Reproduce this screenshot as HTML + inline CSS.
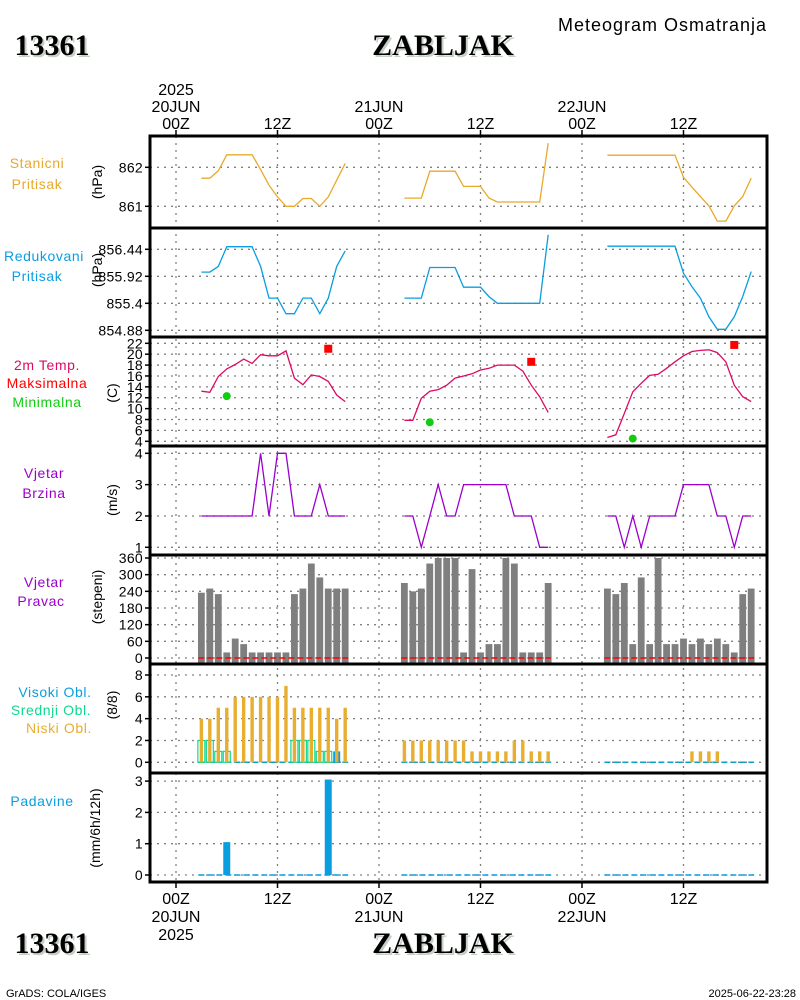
<!DOCTYPE html>
<html><head><meta charset="utf-8"><style>
html,body{margin:0;padding:0;background:#fff;}
svg{display:block;font-family:"Liberation Sans",sans-serif;}
.t{font-size:15px;fill:#000;}
.lab{font-size:14px;text-anchor:middle;letter-spacing:0.6px;}
.tk{font-size:14px;text-anchor:end;fill:#000;letter-spacing:0.3px;}
.big{font-family:"Liberation Serif",serif;font-weight:bold;font-size:30px;}
</style></head><body>
<svg id="chart" width="800" height="1000" viewBox="0 0 800 1000">
<g>
<text x="54" y="57" class="big" fill="#c5cfc5" text-anchor="middle">13361</text>
<text x="52" y="55" class="big" fill="#000" text-anchor="middle">13361</text>
<text x="445" y="57" class="big" fill="#c5cfc5" text-anchor="middle">ZABLJAK</text>
<text x="443" y="55" class="big" fill="#000" text-anchor="middle">ZABLJAK</text>
<text x="766" y="31" font-size="18" text-anchor="end" textLength="208">Meteogram Osmatranja</text>
</g>
<g>
<text x="54" y="955" class="big" fill="#c5cfc5" text-anchor="middle">13361</text>
<text x="52" y="953" class="big" fill="#000" text-anchor="middle">13361</text>
<text x="445" y="955" class="big" fill="#c5cfc5" text-anchor="middle">ZABLJAK</text>
<text x="443" y="953" class="big" fill="#000" text-anchor="middle">ZABLJAK</text>
<text x="6" y="997" font-size="11">GrADS: COLA/IGES</text>
<text x="796" y="997" font-size="11" text-anchor="end">2025-06-22-23:28</text>
</g>
<g id="grid"></g>
<g id="marks"></g>
<g id="axes"></g>
</svg>
<script>
// ---- data (hourly, 3 observation segments) ----
const segStarts = [3, 27, 51];
const stnPressure = [
 [861.72,861.72,861.91,862.32,862.32,862.32,862.32,861.94,861.54,861.24,861.0,861.0,861.2,861.2,861.0,861.24,861.67,862.1],
 [861.21,861.21,861.21,861.9,861.9,861.9,861.9,861.51,861.51,861.51,861.21,861.11,861.11,861.11,861.11,861.11,861.11,862.62],
 [862.31,862.31,862.31,862.31,862.31,862.31,862.31,862.31,862.31,861.74,861.49,861.25,861.01,860.62,860.62,861.01,861.25,861.72]];
const redPressure = [
 [856.0,856.0,856.11,856.49,856.49,856.49,856.49,856.11,855.5,855.5,855.2,855.2,855.5,855.5,855.2,855.5,856.11,856.41],
 [855.5,855.5,855.5,856.09,856.09,856.09,856.09,855.71,855.71,855.71,855.53,855.4,855.4,855.4,855.4,855.4,855.4,856.72],
 [856.5,856.5,856.5,856.5,856.5,856.5,856.5,856.5,856.5,855.98,855.72,855.5,855.14,854.9,854.9,855.14,855.53,856.01]];
const temp2m = [
 [13.2,13.0,15.9,17.3,18.1,19.1,18.3,19.9,19.7,19.7,20.6,15.6,14.4,16.2,15.9,15.0,12.5,11.3],
 [7.85,7.85,11.9,13.2,13.5,14.3,15.6,16.0,16.4,17.1,17.4,18.0,18.0,18.0,16.9,14.3,12.2,9.3],
 [4.7,5.2,9.1,13.1,14.65,16.1,16.3,17.4,18.6,19.7,20.5,20.7,20.8,20.3,18.6,14.3,12.2,11.3]];
const tmaxHour = [18, 42, 66];
const tmaxVal = [21.0, 18.6, 21.7];
const tminHour = [6, 30, 54];
const tminVal = [12.3, 7.5, 4.5];
const windSpeed = [
 [2,2,2,2,2,2,2,4,2,4,4,2,2,2,3,2,2,2],
 [2,2,1,2,3,2,2,3,3,3,3,3,3,2,2,2,1,1],
 [2,2,1,2,1,2,2,2,2,3,3,3,3,2,2,1,2,2]];
const windDir = [
 [235,250,230,20,70,50,20,20,20,20,20,230,250,340,290,250,250,250],
 [270,240,250,340,360,360,360,20,320,20,50,50,360,340,20,20,20,270],
 [250,230,270,50,290,50,360,50,50,70,50,70,50,70,50,20,230,250]];
const cloudLow = [
 [4,4,5,5,6,6,6,6,6,6,7,5,5,5,5,5,4,5],
 [2,2,2,2,2,2,2,2,1,1,1,1,1,2,2,1,1,1],
 [0,0,0,0,0,0,0,0,0,0,1,1,1,1,0,0,0,0]];
const cloudMid = [
 [2,2,1,1,0,0,0,0,0,0,0,2,2,2,1,1,0,0],
 [0,0,0,0,0,0,0,0,0,0,0,0,0,0,0,0,0,0],
 [0,0,0,0,0,0,0,0,0,0,0,0,0,0,0,0,0,0]];
const cloudHigh = [
 [0,0,0,0,0,0,0,0,0,0,0,0,0,0,0,0,1,0],
 [0,0,0,0,0,0,0,0,0,0,0,0,0,0,0,0,0,0],
 [0,0,0,0,0,0,0,0,0,0,0,0,0,0,0,0,0,0]];
const precip = [
 [0,0,0,1.05,0,0,0,0,0,0,0,0,0,0,0,3.05,0,0],
 [0,0,0,0,0,0,0,0,0,0,0,0,0,0,0,0,0,0],
 [0,0,0,0,0,0,0,0,0,0,0,0,0,0,0,0,0,0]];
const stnTicks = [861, 862];
const redTicks = ["854.88","855.4","855.92","856.44"];
const tempTicks = [4,6,8,10,12,14,16,18,20,22];
const wsTicks = [1,2,3,4];
const wdTicks = [0,60,120,180,240,300,360];
const clTicks = [0,2,4,6,8];
const prTicks = [0,1,2,3];
const timeTickHours = [0,12,24,36,48,60];
const timeTickLabels = ["00Z","12Z","00Z","12Z","00Z","12Z"];
const dateLabels = ["20JUN","","21JUN","","22JUN",""];

// ---- scales ----
const L=150,R=767;
const X = h => 176 + h*101.5/12;
const panels = [[136,228],[228,337],[337,446],[446,555],[555,664],[664,773],[773,882]];
const yStn = p => 167.3 - (p-862)*39;
const yRed = p => 249.3 - (p-856.44)*27/0.52;
const yT = t => 343.3 - (t-22)*98/18;
const yWS = s => 547.3 - (s-1)*31.33;
const yWD = d => 658 - d*100/360;
const yCL = c => 762.3 - c*87.3/8;
const yPR = r => 875 - r*31.3;

const NS="http://www.w3.org/2000/svg";
function mk(tag, parent, attrs){const e=document.createElementNS(NS,tag);for(const k in attrs)e.setAttribute(k,attrs[k]);parent.appendChild(e);return e;}
const grid=document.getElementById('grid'), marks=document.getElementById('marks'), axes=document.getElementById('axes');
const dot={stroke:'#808080','stroke-width':1.3,'stroke-dasharray':'2,5'};

timeTickHours.forEach(h=>{
  const l=mk('line',grid,Object.assign({x1:X(h),x2:X(h),y1:136,y2:882},dot));
  
  
});
function hgrid(vals, yf, name){
  vals.forEach(v=>{
    const l=mk('line',grid,Object.assign({x1:L,x2:R,y1:yf(+v),y2:yf(+v)},dot));
    
    
  });
}
function yticks(vals, yf, name, fs){
  vals.forEach(v=>{
    const y=yf(+v);
    const t=mk('line',axes,{x1:145,x2:150,y1:y,y2:y,stroke:'#000','stroke-width':1.5});
    
    
    const tx=mk('text',axes,{x:143,y:y+5,class:'tk','font-size':fs||14});
    tx.textContent=v;
    
    
  });
}
hgrid(stnTicks,yStn,'stn-pressure'); yticks(stnTicks,yStn,'stn-pressure');
hgrid(redTicks,yRed,'red-pressure'); yticks(redTicks,yRed,'red-pressure');
hgrid(tempTicks,yT,'temperature'); yticks(tempTicks,yT,'temperature',12);
hgrid(wsTicks,yWS,'wind-speed'); yticks(wsTicks,yWS,'wind-speed');
hgrid(wdTicks,yWD,'wind-dir'); yticks(wdTicks,yWD,'wind-dir');
hgrid(clTicks,yCL,'cloud'); yticks(clTicks,yCL,'cloud');
hgrid(prTicks,yPR,'precip'); yticks(prTicks,yPR,'precip');

function lines(data, yf, color, name){
  data.forEach((seg,i)=>{
    const pts=seg.map((v,k)=>X(segStarts[i]+k).toFixed(1)+','+yf(v).toFixed(1)).join(' ');
    const p=mk('polyline',marks,{points:pts,fill:'none',stroke:color,'stroke-width':1.3});
    
    
  });
}
lines(stnPressure,yStn,'#e8a92c','station-pressure');
lines(redPressure,yRed,'#0a9ee0','reduced-pressure');
lines(temp2m,yT,'#dc0a64','temperature');
lines(windSpeed,yWS,'#9a00cc','wind-speed');

tmaxHour.forEach((h,i)=>{
  const r=mk('rect',marks,{x:X(h)-4,y:yT(tmaxVal[i])-4,width:8,height:8,fill:'#f00'});
  
  
});
tminHour.forEach((h,i)=>{
  const c=mk('circle',marks,{cx:X(h),cy:yT(tminVal[i]),r:4,fill:'#1c1'});
  
  
});

function baseline(yv, color, name){
  segStarts.forEach(s=>{
    const l=mk('line',marks,{x1:X(s)-3,x2:X(s+17)+3,y1:yv,y2:yv,stroke:color,'stroke-width':1.5,'stroke-dasharray':'6,3'});
    
    
  });
}
windDir.forEach((seg,i)=>seg.forEach((v,k)=>{
  const x=X(segStarts[i]+k);
  const b=mk('rect',marks,{x:x-3.4,y:yWD(v),width:6.8,height:yWD(0)-yWD(v)+5,fill:'#7f7f7f'});
  
  
}));
baseline(yWD(0),'#f00','wind-dir-baseline');

baseline(yCL(0),'#0aa0c8','cloud-baseline');
cloudMid.forEach((seg,i)=>seg.forEach((v,k)=>{
  if(!v)return;
  const x=X(segStarts[i]+k);
  const b=mk('rect',marks,{x:x-3.5,y:yCL(v),width:7,height:yCL(0)-yCL(v),fill:'none',stroke:'#10d890','stroke-width':1.2});
  
  
}));
cloudHigh.forEach((seg,i)=>seg.forEach((v,k)=>{
  if(!v)return;
  const x=X(segStarts[i]+k);
  const b=mk('rect',marks,{x:x-3.5,y:yCL(v),width:7,height:yCL(0)-yCL(v),fill:'#0a9ee0'});
  
  
}));
cloudLow.forEach((seg,i)=>seg.forEach((v,k)=>{
  if(!v)return;
  const x=X(segStarts[i]+k);
  const b=mk('rect',marks,{x:x-1.7,y:yCL(v),width:3.4,height:yCL(0)-yCL(v),fill:'#e8ae30'});
  
  
}));

baseline(yPR(0),'#0a9ee0','precip-baseline');
precip.forEach((seg,i)=>seg.forEach((v,k)=>{
  if(!v)return;
  const x=X(segStarts[i]+k);
  const b=mk('rect',marks,{x:x-3.5,y:yPR(v),width:7,height:yPR(0)-yPR(v),fill:'#0a9ee0'});
  
  
}));

panels.forEach(p=>{
  const r=mk('rect',axes,{x:L,y:p[0],width:R-L,height:p[1]-p[0],fill:'none',stroke:'#000','stroke-width':3});
  
  
});
timeTickHours.forEach((h,i)=>{
  const x=X(h);
  const a=mk('line',axes,{x1:x,x2:x,y1:130,y2:136,stroke:'#000','stroke-width':1.5});
  
  
  const b=mk('line',axes,{x1:x,x2:x,y1:882,y2:888,stroke:'#000','stroke-width':1.5});
  
  
  const t=mk('text',axes,{x:x,y:129,'font-size':16,'text-anchor':'middle'});
  t.textContent=timeTickLabels[i];
  
  
  const t2=mk('text',axes,{x:x,y:904,'font-size':16,'text-anchor':'middle'});
  t2.textContent=timeTickLabels[i];
  
  
  if(dateLabels[i]){
    const d=mk('text',axes,{x:x,y:112,'font-size':16,'text-anchor':'middle'});
    d.textContent=dateLabels[i];
    
    
    const d2=mk('text',axes,{x:x,y:922,'font-size':16,'text-anchor':'middle'});
    d2.textContent=dateLabels[i];
    
    
  }
});
const y1=mk('text',axes,{x:X(0),y:95,'font-size':16,'text-anchor':'middle'});
y1.textContent='2025';


const y2=mk('text',axes,{x:X(0),y:940,'font-size':16,'text-anchor':'middle'});
y2.textContent='2025';



const leftLabels=[
 ['Stanicni',37,168,'#e8a92c'],['Pritisak',37,189,'#e8a92c'],
 ['Redukovani',44,261,'#0a9ee0'],['Pritisak',37,281,'#0a9ee0'],
 ['2m Temp.',47,370,'#dc0a64'],['Maksimalna',47,388,'#f00'],['Minimalna',47,407,'#1c1'],
 ['Vjetar',44,478,'#9a00cc'],['Brzina',44,498,'#9a00cc'],
 ['Vjetar',44,587,'#9a00cc'],['Pravac',41,606,'#9a00cc'],
 ['Visoki Obl.',55,697,'#0a9ee0'],['Srednji Obl.',51,715,'#10d890'],['Niski Obl.',59,733,'#e8ae30'],
 ['Padavine',42,806,'#0a9ee0']];
leftLabels.forEach(a=>{
  const t=mk('text',axes,{x:a[1],y:a[2],class:'lab',fill:a[3]});
  t.textContent=a[0];
  
  
});
const units=[['(hPa)',97,182],['(hPa)',97,270],['(C)',112,393],['(m/s)',112,500],['(stepeni)',97,597],['(8/8)',112,705],['(mm/6h/12h)',95,828]];
units.forEach(u=>{
  const t=mk('text',axes,{x:u[1]+5,y:u[2],'font-size':14,'text-anchor':'middle',transform:`rotate(-90 ${u[1]+5} ${u[2]})`});
  t.textContent=u[0];
  
  
});
</script>
</body></html>
